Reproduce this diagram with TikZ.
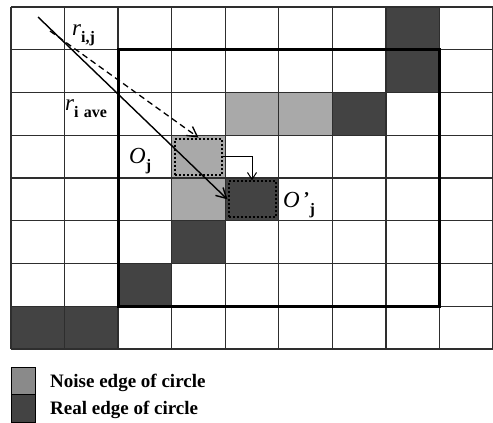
\documentclass[tikz,border=0pt]{standalone}
\usepackage{fontspec}
\setmainfont{Liberation Serif}
\usetikzlibrary{arrows.meta,positioning,calc}
\definecolor{myDark}{HTML}{434343}
\definecolor{myLight}{HTML}{A9A9A9}
\definecolor{myKey}{HTML}{8A8A8A}
\definecolor{myLine}{HTML}{2E2E2E}
\newcommand{\lblsub}[1]{\raisebox{-0.32em}{\fontsize{16}{16}\selectfont\upshape\bfseries #1}}
\tikzset{
	realcell/.style={fill=myDark},
	noisecell/.style={fill=myLight},
	gline/.style={draw=myLine, line width=1.3pt},
	dotbox/.style={
		draw=black,
		line width=2pt,
		dash pattern=on 2pt off 2pt,
		minimum width=47pt,
		minimum height=36pt,
		inner sep=0pt
	},
	lbl/.style={font=\fontsize{23}{23}\selectfont\itshape, inner sep=0pt, anchor=base west},
	keytxt/.style={font=\fontsize{19}{19}\selectfont\bfseries, inner sep=0pt, anchor=base west},
	rarr/.style={-{Straight Barb[length=10pt, width=11pt]}, line width=1.4pt}
}

\begin{document}
\begin{tikzpicture}[x=1pt, y=-1pt]
		\useasboundingbox (0,0) rectangle (493,423);
		% cells
		\foreach \c/\r in {7/0,7/1,6/2,4/4,3/5,2/6,0/7,1/7}
			\fill[realcell] (11+\c*53.56, 7+\r*42.75) rectangle ++(53.56,42.75);
		\foreach \c/\r in {4/2,5/2,3/3,3/4}
			\fill[noisecell] (11+\c*53.56, 7+\r*42.75) rectangle ++(53.56,42.75);
		% grid
		\foreach \c in {0,...,9}
			\draw[gline] (11+\c*53.56, 7) -- (11+\c*53.56, 349);
		\foreach \r in {0,...,8}
			\draw[gline] (11, 7+\r*42.75) -- (493, 7+\r*42.75);
		\draw[line width=3.2pt] (118.1,49.75) rectangle (439.5,306.25);
		% centres
		\node[dotbox] (oj) at (198.5,156.6) {};
		\node[dotbox] (ojp) at (252.0,199.4) {};
		\coordinate (src) at (38,17);
		\coordinate (srcd) at (50,31);
		\draw[rarr] (src) -- (ojp.west);
		\draw[rarr, dash pattern=on 6pt off 4pt, line width=1.3pt] (srcd) -- (oj.north);
		\draw[-{Straight Barb[length=7pt, width=9pt]}, line width=1pt] (oj.east) -| (ojp.north);
		% labels
		\node[lbl] (rij) at (72,35) {r\lblsub{i,j}};
		\node[lbl] (rave) at (65,110) {r\lblsub{i\,\,ave}};
		\node[lbl] (ojl) at (129,163) {O\lblsub{j}};
		\node[lbl] (ojpl) at (283,207) {O\,\raisebox{0.1em}{\upshape\fontsize{18}{18}\selectfont\bfseries'}\lblsub{j}};
		% key
		\node[draw=black, fill=myKey, minimum width=24pt, minimum height=27pt, inner sep=0pt, anchor=north west] (knoise) at (11,367) {};
		\node[draw=black, fill=myDark, minimum width=24pt, minimum height=28pt, inner sep=0pt, anchor=north] (kreal) at (knoise.south) {};
		\node[keytxt] (tnoise) at (50,387) {Noise edge of circle};
		\node[keytxt] (treal) at (50,414) {Real edge of circle};
	\end{tikzpicture}
\end{document}
